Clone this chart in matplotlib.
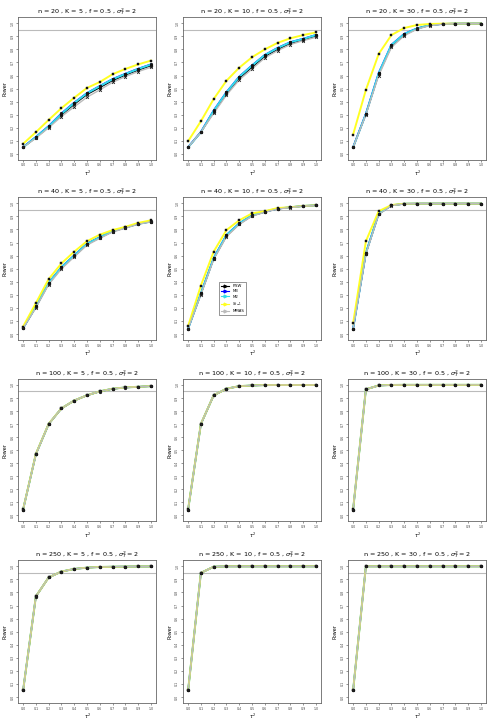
import matplotlib
matplotlib.use("Agg")
import matplotlib.pyplot as plt
from matplotlib.lines import Line2D

tau2 = [0.0, 0.1, 0.2, 0.3, 0.4, 0.5, 0.6, 0.7, 0.8, 0.9, 1.0]
n_values = [20, 40, 100, 250]
k_values = [5, 10, 30]
methods = ["P.SW", "M3", "M2", r"$S_{t-1}$", "MMAS"]

# one row per panel, panels ordered row by row (n) then column (K)
p_sw = [
    [0.050, 0.125, 0.205, 0.298, 0.380, 0.455, 0.508, 0.562, 0.604, 0.642, 0.676],
    [0.050, 0.166, 0.320, 0.460, 0.578, 0.664, 0.746, 0.800, 0.846, 0.874, 0.902],
    [0.050, 0.304, 0.610, 0.826, 0.912, 0.958, 0.985, 0.994, 0.997, 0.998, 0.998],
    [0.044, 0.205, 0.385, 0.505, 0.596, 0.686, 0.737, 0.784, 0.813, 0.842, 0.860],
    [0.040, 0.305, 0.575, 0.750, 0.842, 0.905, 0.934, 0.958, 0.969, 0.979, 0.985],
    [0.040, 0.615, 0.918, 0.984, 0.996, 0.998, 0.998, 0.998, 0.998, 0.998, 0.998],
    [0.045, 0.468, 0.699, 0.819, 0.879, 0.919, 0.949, 0.969, 0.979, 0.985, 0.990],
    [0.045, 0.699, 0.919, 0.970, 0.990, 0.995, 0.998, 0.999, 0.999, 0.999, 0.999],
    [0.045, 0.965, 0.995, 0.999, 1.000, 1.000, 1.000, 1.000, 1.000, 1.000, 1.000],
    [0.050, 0.769, 0.915, 0.960, 0.980, 0.990, 0.995, 0.997, 0.998, 0.999, 0.999],
    [0.050, 0.949, 0.997, 1.000, 1.000, 1.000, 1.000, 1.000, 1.000, 1.000, 1.000],
    [0.050, 1.000, 1.000, 1.000, 1.000, 1.000, 1.000, 1.000, 1.000, 1.000, 1.000],
]
m3 = [
    [0.052, 0.130, 0.213, 0.310, 0.393, 0.466, 0.520, 0.573, 0.614, 0.652, 0.686],
    [0.052, 0.168, 0.333, 0.473, 0.592, 0.678, 0.758, 0.812, 0.856, 0.882, 0.911],
    [0.052, 0.308, 0.620, 0.836, 0.920, 0.961, 0.987, 0.995, 0.998, 0.998, 0.998],
    [0.045, 0.212, 0.392, 0.512, 0.602, 0.692, 0.742, 0.788, 0.816, 0.844, 0.862],
    [0.041, 0.312, 0.582, 0.758, 0.847, 0.909, 0.936, 0.960, 0.970, 0.980, 0.985],
    [0.041, 0.621, 0.921, 0.985, 0.997, 0.998, 0.998, 0.998, 0.998, 0.998, 0.998],
    [0.045, 0.470, 0.700, 0.820, 0.880, 0.920, 0.950, 0.970, 0.980, 0.985, 0.990],
    [0.045, 0.700, 0.920, 0.970, 0.990, 0.995, 0.998, 0.999, 0.999, 0.999, 0.999],
    [0.045, 0.966, 0.995, 0.999, 1.000, 1.000, 1.000, 1.000, 1.000, 1.000, 1.000],
    [0.050, 0.770, 0.915, 0.960, 0.980, 0.990, 0.995, 0.997, 0.998, 0.999, 0.999],
    [0.050, 0.950, 0.997, 1.000, 1.000, 1.000, 1.000, 1.000, 1.000, 1.000, 1.000],
    [0.050, 1.000, 1.000, 1.000, 1.000, 1.000, 1.000, 1.000, 1.000, 1.000, 1.000],
]
m2 = [
    [0.050, 0.128, 0.210, 0.306, 0.390, 0.464, 0.518, 0.571, 0.612, 0.650, 0.684],
    [0.050, 0.166, 0.330, 0.470, 0.590, 0.676, 0.757, 0.810, 0.855, 0.880, 0.910],
    [0.050, 0.306, 0.617, 0.834, 0.918, 0.960, 0.987, 0.995, 0.998, 0.998, 0.998],
    [0.044, 0.210, 0.390, 0.510, 0.600, 0.690, 0.740, 0.787, 0.815, 0.843, 0.860],
    [0.040, 0.310, 0.580, 0.756, 0.846, 0.908, 0.936, 0.960, 0.970, 0.980, 0.985],
    [0.040, 0.620, 0.920, 0.985, 0.997, 0.998, 0.998, 0.998, 0.998, 0.998, 0.998],
    [0.045, 0.470, 0.700, 0.820, 0.880, 0.920, 0.950, 0.970, 0.980, 0.985, 0.990],
    [0.045, 0.700, 0.920, 0.970, 0.990, 0.995, 0.998, 0.999, 0.999, 0.999, 0.999],
    [0.045, 0.966, 0.995, 0.999, 1.000, 1.000, 1.000, 1.000, 1.000, 1.000, 1.000],
    [0.050, 0.770, 0.915, 0.960, 0.980, 0.990, 0.995, 0.997, 0.998, 0.999, 0.999],
    [0.050, 0.950, 0.997, 1.000, 1.000, 1.000, 1.000, 1.000, 1.000, 1.000, 1.000],
    [0.050, 1.000, 1.000, 1.000, 1.000, 1.000, 1.000, 1.000, 1.000, 1.000, 1.000],
]
s_t1 = [
    [0.077, 0.166, 0.260, 0.350, 0.430, 0.505, 0.550, 0.610, 0.650, 0.685, 0.714],
    [0.097, 0.250, 0.420, 0.560, 0.660, 0.740, 0.800, 0.850, 0.885, 0.910, 0.930],
    [0.148, 0.490, 0.765, 0.910, 0.964, 0.987, 0.995, 0.997, 0.998, 0.998, 0.998],
    [0.056, 0.236, 0.420, 0.540, 0.630, 0.710, 0.760, 0.795, 0.820, 0.850, 0.870],
    [0.060, 0.370, 0.630, 0.795, 0.870, 0.923, 0.940, 0.964, 0.970, 0.980, 0.985],
    [0.080, 0.710, 0.940, 0.987, 0.997, 0.998, 0.998, 0.998, 0.998, 0.998, 0.998],
    [0.046, 0.471, 0.701, 0.820, 0.880, 0.920, 0.950, 0.970, 0.980, 0.985, 0.990],
    [0.046, 0.701, 0.920, 0.970, 0.990, 0.995, 0.998, 0.999, 0.999, 0.999, 0.999],
    [0.046, 0.966, 0.995, 0.999, 1.000, 1.000, 1.000, 1.000, 1.000, 1.000, 1.000],
    [0.050, 0.770, 0.915, 0.960, 0.980, 0.990, 0.995, 0.997, 0.998, 0.999, 0.999],
    [0.050, 0.950, 0.997, 1.000, 1.000, 1.000, 1.000, 1.000, 1.000, 1.000, 1.000],
    [0.050, 1.000, 1.000, 1.000, 1.000, 1.000, 1.000, 1.000, 1.000, 1.000, 1.000],
]
mmas = [
    [0.050, 0.120, 0.200, 0.286, 0.360, 0.434, 0.490, 0.548, 0.592, 0.630, 0.663],
    [0.050, 0.166, 0.310, 0.450, 0.566, 0.650, 0.735, 0.790, 0.837, 0.867, 0.893],
    [0.050, 0.300, 0.600, 0.816, 0.905, 0.955, 0.982, 0.993, 0.997, 0.998, 0.998],
    [0.044, 0.200, 0.378, 0.498, 0.590, 0.680, 0.732, 0.780, 0.810, 0.840, 0.858],
    [0.040, 0.300, 0.570, 0.745, 0.838, 0.902, 0.932, 0.957, 0.968, 0.979, 0.984],
    [0.040, 0.610, 0.915, 0.983, 0.996, 0.998, 0.998, 0.998, 0.998, 0.998, 0.998],
    [0.045, 0.469, 0.700, 0.820, 0.880, 0.920, 0.950, 0.970, 0.980, 0.985, 0.990],
    [0.045, 0.700, 0.920, 0.970, 0.990, 0.995, 0.998, 0.999, 0.999, 0.999, 0.999],
    [0.045, 0.966, 0.995, 0.999, 1.000, 1.000, 1.000, 1.000, 1.000, 1.000, 1.000],
    [0.050, 0.770, 0.915, 0.960, 0.980, 0.990, 0.995, 0.997, 0.998, 0.999, 0.999],
    [0.050, 0.950, 0.997, 1.000, 1.000, 1.000, 1.000, 1.000, 1.000, 1.000, 1.000],
    [0.050, 1.000, 1.000, 1.000, 1.000, 1.000, 1.000, 1.000, 1.000, 1.000, 1.000],
]

series = [p_sw, m3, m2, s_t1, mmas]
colors = ["black", "#0000ff", "#33dde8", "#ffff22", "#bbbbbb"]
widths = [1.0, 1.2, 1.4, 1.4, 1.0]
markers = ["o", "o", "o", "s", "x"]

col_left = [18 / 495, 183 / 495, 348 / 495]
ax_w = 138 / 495
row_bottom = [0.780, 0.532, 0.282, 0.032]
ax_h = 0.196


def main() -> None:
    fig = plt.figure(figsize=(4.95, 7.26), dpi=100)
    for i, n in enumerate(n_values):
        for j, k in enumerate(k_values):
            idx = i * 3 + j
            ax = fig.add_axes([col_left[j], row_bottom[i], ax_w, ax_h])
            for s, col, lw, mk in zip(series, colors, widths, markers):
                ax.plot(tau2, s[idx], color=col, lw=lw, zorder=2)
                if mk == "x":
                    ax.plot(tau2, s[idx], ls="none", marker=mk, ms=2.0,
                            mec="#222222", mew=0.6, zorder=3)
                else:
                    ax.plot(tau2, s[idx], ls="none", marker=mk, ms=2.0,
                            mfc="#111111", mec="#111111", mew=0.3, zorder=3)
            ax.axhline(0.95, color="#bbbbbb", lw=0.8, zorder=1)
            ax.set_xlim(-0.04, 1.04)
            ax.set_ylim(-0.045, 1.045)
            ax.set_xticks(tau2)
            ax.set_xticklabels([f"{v:.1f}" for v in tau2])
            ax.set_yticks(tau2)
            ax.set_yticklabels([f"{v:.1f}" for v in tau2], rotation=90, va="center")
            ax.tick_params(labelsize=2.3, length=1.5, width=0.4, pad=1.2,
                           colors="#444444")
            for sp in ax.spines.values():
                sp.set_color("#666666")
                sp.set_linewidth(0.6)
            ax.set_xlabel(r"$\tau^2$", fontsize=3.5, labelpad=1)
            ax.set_ylabel("Power", fontsize=3.5, labelpad=2)
            ax.set_title(rf"n = {n} , K = {k} , f = 0.5 , $\sigma^2_T = 2$",
                         fontsize=4.6, pad=3)
            if idx == 4:
                handles = [
                    Line2D([], [], color=c, lw=0.8, marker=">", ms=2, mec=c, mfc=c)
                    for c in colors
                ]
                leg = ax.legend(handles, methods, loc="upper left",
                                bbox_to_anchor=(0.245, 0.42), fontsize=2.8,
                                frameon=True, fancybox=False, handlelength=2.2,
                                borderpad=0.5, labelspacing=0.35)
                leg.get_frame().set_edgecolor("#444444")
                leg.get_frame().set_linewidth(0.5)
    fig.savefig("out.png", dpi=100)


if __name__ == "__main__":
    main()
